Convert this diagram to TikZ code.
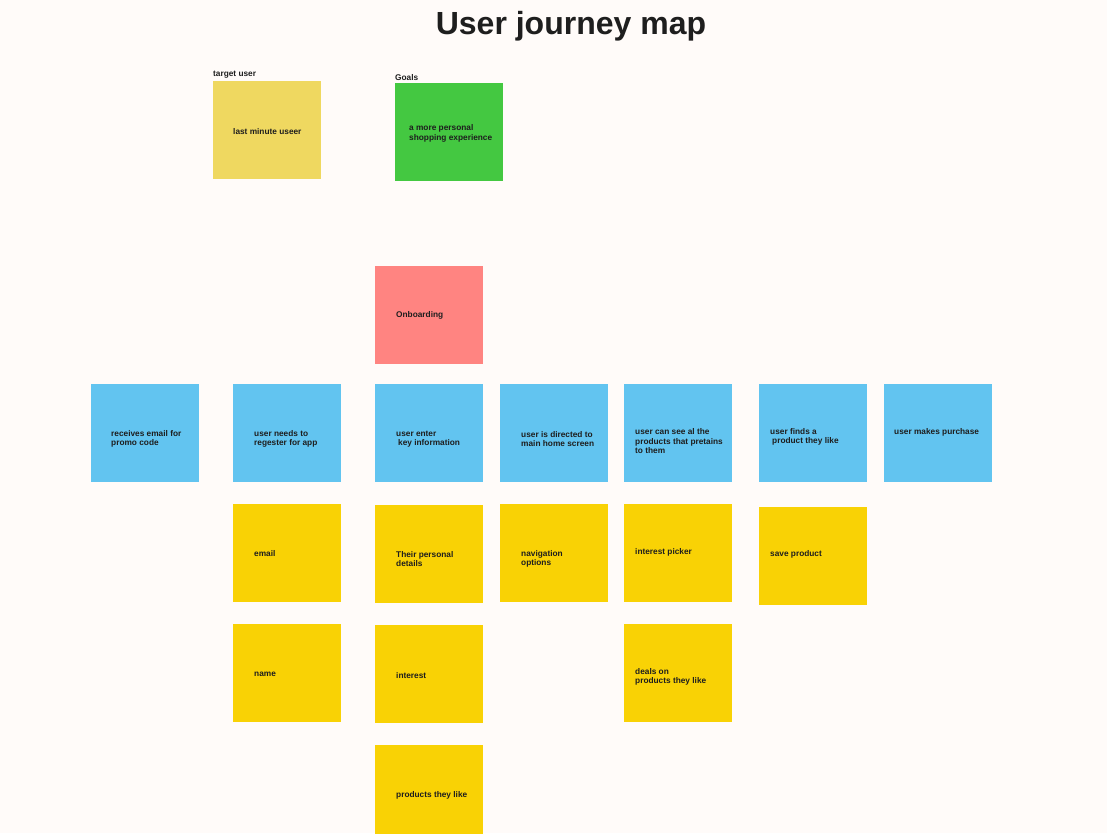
\documentclass[tikz,border=0pt]{standalone}
\usepackage{fontspec}
\setmainfont{Liberation Sans}
\usepackage{xcolor}
\definecolor{paper}{HTML}{FFFBF9}
\definecolor{ink}{HTML}{1E1E1E}
\definecolor{stickyblue}{HTML}{62C4F0}
\definecolor{stickyyellow}{HTML}{F9D205}
\definecolor{stickypale}{HTML}{EFD860}
\definecolor{stickygreen}{HTML}{44C841}
\definecolor{stickyred}{HTML}{FF8481}

\begin{document}
\begin{tikzpicture}[x=1pt,y=-1pt,
  sticky/.style={minimum width=108pt,minimum height=98pt,inner sep=0pt},
  note/.style={anchor=west,align=left,inner sep=0pt,text=ink,yshift=-1.5pt,
    font=\bfseries\fontsize{8.3}{9.5}\selectfont},
  caption/.style={anchor=west,inner sep=0pt,text=ink,yshift=-1.5pt,
    font=\bfseries\fontsize{8.3}{9}\selectfont}]
\fill[paper] (0,0) rectangle (1107,833);
\useasboundingbox (0,0) rectangle (1107,833);
\clip (0,0) rectangle (1107,833);

\node[text=ink,font=\bfseries\fontsize{32}{36}\selectfont] (title) at (571,26) {User journey map};

% persona and goal
\node[caption] (targetlabel) at (213,73) {target user};
\node[sticky,fill=stickypale] (target) at (267,130) {};
\node[note] (targettext) at (233,130) {last minute useer};
\node[caption] (goalslabel) at (395,76) {Goals};
\node[sticky,fill=stickygreen] (goals) at (449,132) {};
\node[note] (goalstext) at (409,132) {a more personal\\shopping experience};

% stage
\node[sticky,fill=stickyred] (onboard) at (429,315) {};
\node[note] (onboardtext) at (396,314) {Onboarding};

% steps
\node[sticky,fill=stickyblue] (step1) at (145,433) {};
\node[note] (step1text) at (111,437.5) {receives email for\\promo code};
\node[sticky,fill=stickyblue] (step2) at (287,433) {};
\node[note] (step2text) at (254,437.5) {user needs to\\regester for app};
\node[sticky,fill=stickyblue] (step3) at (429,433) {};
\node[note] (step3text) at (396,437.5) {user enter\\\hspace{2pt}key information};
\node[sticky,fill=stickyblue] (step4) at (554,433) {};
\node[note] (step4text) at (521,437.5) {user is directed to\\main home screen};
\node[sticky,fill=stickyblue] (step5) at (678,433) {};
\node[note] (step5text) at (635,440) {user can see al the\\products that pretains\\to them};
\node[sticky,fill=stickyblue] (step6) at (813,433) {};
\node[note] (step6text) at (770,435.5) {user finds a\\\hspace{2pt}product they like};
\node[sticky,fill=stickyblue] (step7) at (938,433) {};
\node[note] (step7text) at (894,431) {user makes purchase};

% details
\node[sticky,fill=stickyyellow] (email) at (287,553) {};
\node[note] (emailtext) at (254,552) {email};
\node[sticky,fill=stickyyellow] (name) at (287,673) {};
\node[note] (nametext) at (254,673) {name};
\node[sticky,fill=stickyyellow] (details) at (429,554) {};
\node[note] (detailstext) at (396,557.5) {Their personal\\details};
\node[sticky,fill=stickyyellow] (interest) at (429,674) {};
\node[note] (interesttext) at (396,674) {interest};
\node[sticky,fill=stickyyellow] (likes) at (429,794) {};
\node[note] (likestext) at (396,794) {products they like};
\node[sticky,fill=stickyyellow] (navigation) at (554,553) {};
\node[note] (navigationtext) at (521,557.5) {navigation\\options};
\node[sticky,fill=stickyyellow] (picker) at (678,553) {};
\node[note] (pickertext) at (635,551) {interest picker};
\node[sticky,fill=stickyyellow] (deals) at (678,673) {};
\node[note] (dealstext) at (635,675.5) {deals on\\products they like};
\node[sticky,fill=stickyyellow] (save) at (813,556) {};
\node[note] (savetext) at (770,553) {save product};
\end{tikzpicture}
\end{document}
